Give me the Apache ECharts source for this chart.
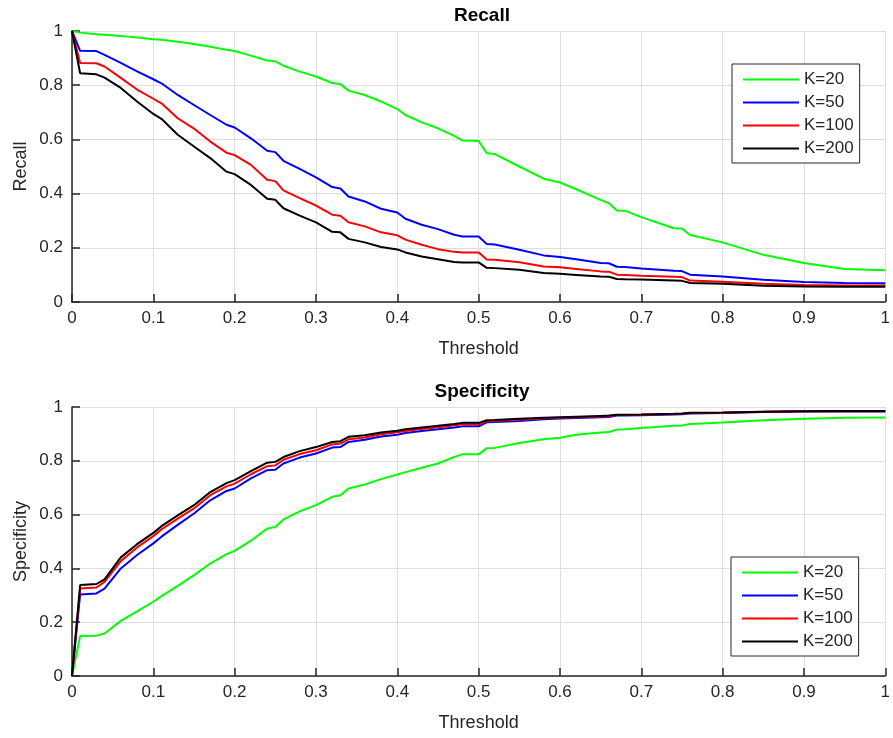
<!DOCTYPE html>
<html>
<head>
<meta charset="utf-8">
<script src="https://cdn.jsdelivr.net/npm/echarts@6/dist/echarts.min.js"></script>
<style>
html,body{margin:0;padding:0;background:#fff;}
#chart{width:893px;height:738px;}
</style>
</head>
<body>
<div id="chart"></div>
<script>
var thresholds = [0, 0.01, 0.03, 0.04, 0.06, 0.08, 0.10, 0.11, 0.13, 0.15, 0.17, 0.19, 0.20, 0.22, 0.24, 0.25, 0.26, 0.28, 0.30, 0.32, 0.33, 0.34, 0.36, 0.38, 0.40, 0.41, 0.43, 0.45, 0.47, 0.48, 0.50, 0.51, 0.52, 0.55, 0.58, 0.60, 0.62, 0.65, 0.66, 0.67, 0.68, 0.70, 0.74, 0.75, 0.76, 0.80, 0.85, 0.90, 0.95, 1.00];

var seriesNames = ['K=20', 'K=50', 'K=100', 'K=200'];
var xTicks = ['0', '0.1', '0.2', '0.3', '0.4', '0.5', '0.6', '0.7', '0.8', '0.9', '1'];
var yTicks = ['0', '0.2', '0.4', '0.6', '0.8', '1'];

var recallK20 = [1.0, 0.994, 0.988, 0.986, 0.982, 0.976, 0.970, 0.968, 0.960, 0.952, 0.942, 0.931, 0.926, 0.909, 0.891, 0.888, 0.872, 0.850, 0.832, 0.808, 0.804, 0.780, 0.764, 0.740, 0.712, 0.690, 0.663, 0.641, 0.613, 0.596, 0.594, 0.549, 0.546, 0.500, 0.455, 0.441, 0.416, 0.377, 0.365, 0.338, 0.337, 0.313, 0.272, 0.271, 0.247, 0.220, 0.174, 0.144, 0.122, 0.117];
var recallK50 = [1.0, 0.927, 0.926, 0.912, 0.882, 0.851, 0.822, 0.807, 0.764, 0.727, 0.690, 0.654, 0.644, 0.604, 0.558, 0.553, 0.521, 0.491, 0.460, 0.424, 0.419, 0.389, 0.371, 0.344, 0.330, 0.307, 0.285, 0.269, 0.248, 0.242, 0.242, 0.214, 0.212, 0.193, 0.172, 0.166, 0.158, 0.144, 0.143, 0.130, 0.129, 0.124, 0.115, 0.114, 0.101, 0.094, 0.082, 0.074, 0.070, 0.069];
var recallK100 = [1.0, 0.882, 0.881, 0.869, 0.827, 0.784, 0.750, 0.733, 0.678, 0.640, 0.592, 0.551, 0.542, 0.506, 0.451, 0.446, 0.412, 0.383, 0.356, 0.322, 0.318, 0.294, 0.279, 0.257, 0.246, 0.230, 0.211, 0.195, 0.185, 0.183, 0.183, 0.157, 0.156, 0.147, 0.131, 0.128, 0.122, 0.113, 0.112, 0.101, 0.100, 0.097, 0.093, 0.092, 0.079, 0.075, 0.067, 0.063, 0.061, 0.061];
var recallK200 = [1.0, 0.844, 0.840, 0.828, 0.790, 0.740, 0.694, 0.676, 0.617, 0.574, 0.531, 0.481, 0.472, 0.432, 0.381, 0.377, 0.346, 0.319, 0.294, 0.259, 0.257, 0.233, 0.220, 0.203, 0.194, 0.183, 0.168, 0.158, 0.148, 0.146, 0.146, 0.126, 0.125, 0.119, 0.107, 0.104, 0.100, 0.094, 0.093, 0.085, 0.084, 0.083, 0.079, 0.078, 0.070, 0.067, 0.060, 0.057, 0.056, 0.056];

var specK20 = [0.0, 0.149, 0.150, 0.158, 0.205, 0.240, 0.276, 0.297, 0.335, 0.375, 0.418, 0.453, 0.465, 0.503, 0.548, 0.554, 0.582, 0.612, 0.635, 0.666, 0.672, 0.697, 0.712, 0.732, 0.749, 0.758, 0.774, 0.790, 0.814, 0.824, 0.824, 0.847, 0.848, 0.866, 0.880, 0.886, 0.897, 0.905, 0.907, 0.916, 0.917, 0.922, 0.930, 0.931, 0.937, 0.942, 0.951, 0.956, 0.960, 0.961];
var specK50 = [0.0, 0.303, 0.307, 0.325, 0.400, 0.450, 0.493, 0.518, 0.562, 0.604, 0.653, 0.688, 0.697, 0.735, 0.765, 0.767, 0.790, 0.812, 0.827, 0.849, 0.851, 0.870, 0.878, 0.890, 0.897, 0.903, 0.911, 0.917, 0.924, 0.928, 0.928, 0.943, 0.944, 0.948, 0.954, 0.957, 0.959, 0.962, 0.963, 0.968, 0.968, 0.969, 0.972, 0.973, 0.976, 0.978, 0.981, 0.983, 0.983, 0.983];
var specK100 = [0.0, 0.325, 0.329, 0.350, 0.427, 0.478, 0.520, 0.545, 0.585, 0.623, 0.672, 0.705, 0.715, 0.750, 0.780, 0.783, 0.804, 0.825, 0.839, 0.861, 0.864, 0.880, 0.887, 0.899, 0.906, 0.911, 0.918, 0.925, 0.932, 0.936, 0.936, 0.948, 0.949, 0.953, 0.958, 0.960, 0.962, 0.965, 0.966, 0.970, 0.970, 0.971, 0.974, 0.975, 0.978, 0.979, 0.982, 0.984, 0.984, 0.984];
var specK200 = [0.0, 0.338, 0.342, 0.359, 0.441, 0.490, 0.532, 0.557, 0.597, 0.635, 0.684, 0.717, 0.728, 0.762, 0.793, 0.796, 0.814, 0.836, 0.851, 0.870, 0.873, 0.889, 0.895, 0.905, 0.912, 0.917, 0.924, 0.930, 0.937, 0.941, 0.941, 0.951, 0.952, 0.956, 0.960, 0.962, 0.964, 0.967, 0.968, 0.971, 0.971, 0.972, 0.975, 0.976, 0.979, 0.980, 0.982, 0.984, 0.985, 0.985];

var colors = ['#00ff00', '#0000ff', '#ff0000', '#000000'];
var FONT = "'Liberation Sans', Arial, Helvetica, sans-serif";
var TXT = '#262626';

function pairs(vals) {
  return thresholds.map(function (t, i) { return [t, vals[i]]; });
}

function makeX(idx) {
  return {
    type: 'value', gridIndex: idx, min: 0, max: 1, interval: 0.1,
    name: 'Threshold', nameLocation: 'middle', nameGap: 38, nameMoveOverlap: false,
    nameTextStyle: { fontFamily: FONT, fontSize: 18, color: TXT },
    axisLine: { show: true, onZero: false, lineStyle: { color: TXT, width: 1.5 } },
    axisTick: { show: true, inside: true, length: 8, lineStyle: { color: TXT, width: 1.5 } },
    axisLabel: { fontFamily: FONT, fontSize: 17, color: TXT, margin: 8,
      formatter: function (v) { return xTicks[Math.round(v * 10)]; } },
    splitLine: { show: true, lineStyle: { color: '#dedede', width: 1 } }
  };
}
function makeY(idx, name) {
  return {
    type: 'value', gridIndex: idx, min: 0, max: 1, interval: 0.2,
    name: name, nameLocation: 'middle', nameGap: 42, nameMoveOverlap: false,
    nameTextStyle: { fontFamily: FONT, fontSize: 18, color: TXT },
    axisLine: { show: true, onZero: false, lineStyle: { color: TXT, width: 1.5 } },
    axisTick: { show: true, inside: true, length: 8, lineStyle: { color: TXT, width: 1.5 } },
    axisLabel: { fontFamily: FONT, fontSize: 17, color: TXT, margin: 9,
      formatter: function (v) { return yTicks[Math.round(v * 5)]; } },
    splitLine: { show: true, lineStyle: { color: '#dedede', width: 1 } }
  };
}
function makeLegend(left, top) {
  return {
    orient: 'vertical', left: left, top: top,
    data: seriesNames,
    itemWidth: 56, itemHeight: 14, itemGap: 6,
    padding: [7, 6, 6, 10],
    borderColor: TXT, borderWidth: 1, backgroundColor: '#ffffff',
    itemStyle: { opacity: 0 },
    textStyle: { fontFamily: FONT, fontSize: 17, color: TXT },
    selectedMode: false
  };
}

var recallSets = [recallK20, recallK50, recallK100, recallK200];
var specSets = [specK20, specK50, specK100, specK200];
var series = [];
seriesNames.forEach(function (n, i) {
  series.push({ name: n, type: 'line', xAxisIndex: 0, yAxisIndex: 0, data: pairs(recallSets[i]),
    symbol: 'none', lineStyle: { color: colors[i], width: 2 }, itemStyle: { color: colors[i] } });
});
seriesNames.forEach(function (n, i) {
  series.push({ name: n, type: 'line', xAxisIndex: 1, yAxisIndex: 1, data: pairs(specSets[i]),
    symbol: 'none', lineStyle: { color: colors[i], width: 2 }, itemStyle: { color: colors[i] } });
});

var chart = echarts.init(document.getElementById('chart'), null, { renderer: 'canvas' });
chart.setOption({
  animation: false,
  backgroundColor: '#ffffff',
  title: [
    { text: 'Recall', left: 482, top: 6, textAlign: 'center', padding: 0,
      textStyle: { fontFamily: FONT, fontSize: 19, fontWeight: 'bold', color: '#000' } },
    { text: 'Specificity', left: 482, top: 382, textAlign: 'center', padding: 0,
      textStyle: { fontFamily: FONT, fontSize: 19, fontWeight: 'bold', color: '#000' } }
  ],
  grid: [
    { left: 72, right: 1, top: 31, height: 271, containLabel: false },
    { left: 72, right: 1, top: 407, height: 269, containLabel: false }
  ],
  xAxis: [makeX(0), makeX(1)],
  yAxis: [makeY(0, 'Recall'), makeY(1, 'Specificity')],
  legend: [makeLegend(732, 64), makeLegend(731, 557)],
  series: series
});
</script>
</body>
</html>
